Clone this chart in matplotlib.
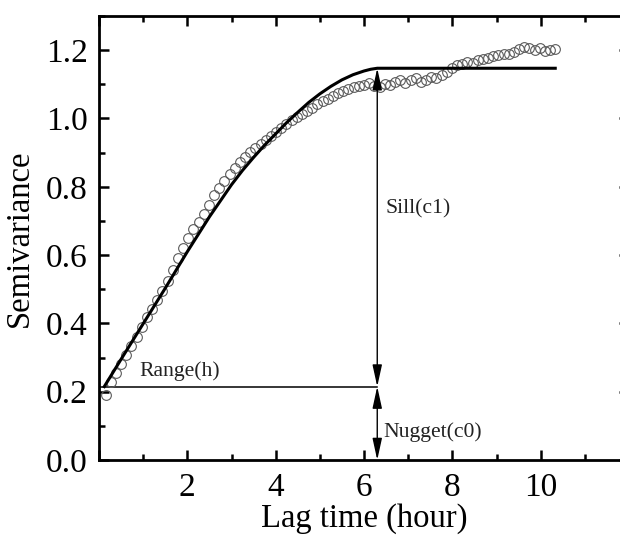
import matplotlib
matplotlib.use("Agg")
import matplotlib.pyplot as plt
from matplotlib.ticker import MultipleLocator, FixedLocator

plt.rcParams['font.family'] = ['Liberation Serif', 'DejaVu Serif']
plt.rcParams['mathtext.fontset'] = 'stix'

# Experimental semivariance (lag time in hours)
lag_hours = [0.150, 0.267, 0.384, 0.501, 0.618, 0.735, 0.852, 0.969, 1.086, 1.203,
             1.320, 1.437, 1.554, 1.671, 1.788, 1.905, 2.022, 2.139, 2.256, 2.373,
             2.490, 2.607, 2.724, 2.841, 2.958, 3.075, 3.192, 3.309, 3.426, 3.543,
             3.660, 3.777, 3.894, 4.011, 4.128, 4.245, 4.362, 4.479, 4.596, 4.713,
             4.830, 4.947, 5.064, 5.181, 5.298, 5.415, 5.532, 5.649, 5.766, 5.883,
             6.000, 6.117, 6.234, 6.351, 6.468, 6.585, 6.702, 6.819, 6.936, 7.053,
             7.170, 7.287, 7.404, 7.521, 7.638, 7.755, 7.872, 7.989, 8.106, 8.223,
             8.340, 8.457, 8.574, 8.691, 8.808, 8.925, 9.042, 9.159, 9.276, 9.393,
             9.510, 9.627, 9.744, 9.861, 9.978, 10.095, 10.212, 10.329]
semivariance = [0.190, 0.228, 0.254, 0.281, 0.307, 0.333, 0.360, 0.390, 0.418, 0.443,
                0.468, 0.496, 0.524, 0.556, 0.590, 0.620, 0.650, 0.675, 0.697, 0.720,
                0.748, 0.775, 0.797, 0.818, 0.838, 0.856, 0.872, 0.887, 0.902, 0.914,
                0.925, 0.937, 0.948, 0.960, 0.972, 0.984, 0.995, 1.004, 1.013, 1.022,
                1.032, 1.042, 1.050, 1.058, 1.066, 1.074, 1.081, 1.087, 1.092, 1.096,
                1.098, 1.104, 1.096, 1.093, 1.102, 1.098, 1.108, 1.112, 1.104, 1.113,
                1.118, 1.106, 1.112, 1.122, 1.118, 1.128, 1.135, 1.148, 1.156, 1.160,
                1.165, 1.162, 1.170, 1.175, 1.178, 1.183, 1.185, 1.190, 1.188, 1.195,
                1.203, 1.210, 1.205, 1.200, 1.205, 1.198, 1.200, 1.203]

# Fitted model curve
fit_lag = [0.12, 0.5, 1.0, 1.5, 2.0, 2.5, 3.0, 3.25, 3.5, 3.75, 4.0, 4.25, 4.5,
           4.75, 5.0, 5.25, 5.5, 5.75, 6.0, 6.15, 6.3, 10.33]
fit_val = [0.215, 0.295, 0.399, 0.503, 0.610, 0.712, 0.806, 0.848, 0.886, 0.922,
           0.955, 0.988, 1.018, 1.047, 1.072, 1.094, 1.113, 1.128, 1.139, 1.144,
           1.147, 1.147]

nugget = 0.215
sill = 1.147
range_h = 6.3

fig = plt.figure(figsize=(6.2, 5.35), dpi=100)
ax = fig.add_axes([99 / 620, 75 / 535, 530 / 620, 444 / 535])

ax.plot(lag_hours, semivariance, linestyle='none', marker='o', markersize=7.0,
        markerfacecolor='none', markeredgecolor='#5a5a5a', markeredgewidth=0.8, zorder=3)
ax.plot(fit_lag, fit_val, color='black', linewidth=2.2, zorder=4,
        solid_joinstyle='round')

# Range line
ax.plot([0, range_h], [nugget, nugget], color='black', linewidth=1.1, zorder=2)

arrow_kw = dict(arrowstyle='<|-|>,head_length=1.1,head_width=0.24', color='black',
                linewidth=1.0, shrinkA=0, shrinkB=0, mutation_scale=12)
ax.annotate('', xy=(range_h, sill), xytext=(range_h, nugget), arrowprops=arrow_kw, zorder=5)
ax.annotate('', xy=(range_h, nugget), xytext=(range_h, 0.0), arrowprops=arrow_kw, zorder=5)

ax.text(0.92, 0.245, 'Range(h)', fontsize=15.6, color='#222222', va='baseline', ha='left')
ax.text(6.48, 0.723, 'Sill(c1)', fontsize=15.6, color='#222222', va='baseline', ha='left')
ax.text(6.44, 0.067, 'Nugget(c0)', fontsize=15.6, color='#222222', va='baseline', ha='left')

ax.set_xlim(0, 12)
ax.set_ylim(0, 1.3)
ax.xaxis.set_major_locator(FixedLocator([0, 2, 4, 6, 8, 10, 12]))
ax.xaxis.set_minor_locator(MultipleLocator(1))
ax.yaxis.set_major_locator(MultipleLocator(0.2))
ax.yaxis.set_minor_locator(MultipleLocator(0.1))
ax.set_xticklabels(['', '2', '4', '6', '8', '10', ''])
ax.yaxis.set_major_formatter(plt.FuncFormatter(lambda v, p: f'{v:.1f}'))

ax.tick_params(which='both', direction='in', top=True, right=True, width=1.8)
ax.tick_params(which='major', length=7.5, labelsize=24)
ax.tick_params(which='minor', length=4)
ax.tick_params(axis='y', which='major', pad=8)
ax.tick_params(axis='x', which='major', pad=9)
for s in ax.spines.values():
    s.set_linewidth(2.0)

ax.set_xlabel('Lag time (hour)', fontsize=23.5, labelpad=0)
ax.set_ylabel('Semivariance', fontsize=23.5, labelpad=8)

fig.savefig('out.png', dpi=100)
